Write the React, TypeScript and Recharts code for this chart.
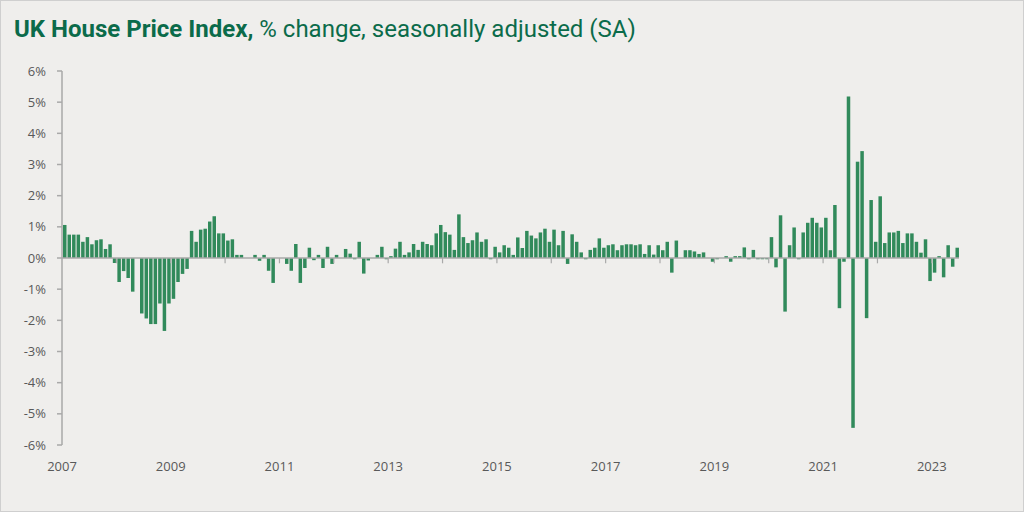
import React from 'react';
import { BarChart, Bar, XAxis, YAxis, ReferenceLine } from 'recharts';

// Monthly % change, seasonally adjusted, Jan 2007 .. Jun 2023
const monthlyChange: number[] = [
  // 2007
  1.06, 0.75, 0.75, 0.75, 0.52, 0.67, 0.44, 0.57, 0.60, 0.29, 0.44, -0.16,
  // 2008
  -0.77, -0.42, -0.64, -1.08, 0, -1.78, -1.94, -2.12, -2.12, -1.46, -2.34, -1.46,
  // 2009
  -1.31, -0.77, -0.51, -0.35, 0.87, 0.52, 0.91, 0.94, 1.17, 1.34, 0.79, 0.79,
  // 2010
  0.56, 0.60, 0.10, 0.10, 0, 0, 0.10, -0.09, 0.10, -0.41, -0.80, 0,
  // 2011
  0, -0.19, -0.41, 0.45, -0.80, -0.32, 0.33, -0.07, 0.10, -0.32, 0.36, -0.19,
  // 2012
  0.10, 0, 0.29, 0.14, -0.04, 0.52, -0.50, -0.08, 0, 0.10, 0.36, -0.04,
  // 2013
  0.06, 0.30, 0.52, 0.10, 0.18, 0.45, 0.26, 0.52, 0.45, 0.41, 0.79, 1.06,
  // 2014
  0.83, 0.75, 0.26, 1.40, 0.67, 0.48, 0.57, 0.82, 0.52, 0.60, -0.04, 0.36,
  // 2015
  0.18, 0.41, 0.33, 0.10, 0.66, 0.32, 0.87, 0.72, 0.63, 0.82, 0.94, 0.52,
  // 2016
  0.91, 0.41, 0.87, -0.19, 0.76, 0.52, 0.18, -0.04, 0.26, 0.33, 0.63, 0.33,
  // 2017
  0.41, 0.44, 0.25, 0.41, 0.44, 0.44, 0.41, 0.44, 0.13, 0.41, 0.11, 0.41,
  // 2018
  0.25, 0.52, -0.47, 0.56, 0, 0.25, 0.25, 0.21, 0.13, 0.18, 0, -0.12,
  // 2019
  -0.04, 0, 0.06, -0.12, 0.06, 0.06, 0.34, -0.04, 0.26, -0.04, -0.04, -0.04,
  // 2020
  0.67, -0.30, 1.37, -1.72, 0.41, 0.98, -0.04, 0.82, 1.13, 1.29, 1.13, 0.98,
  // 2021
  1.29, 0.25, 1.70, -1.61, -0.12, 5.18, -5.45, 3.09, 3.43, -1.93, 1.86, 0.52,
  // 2022
  1.98, 0.48, 0.82, 0.82, 0.87, 0.48, 0.79, 0.79, 0.52, 0.17, 0.60, -0.74,
  // 2023
  -0.47, 0.06, -0.62, 0.41, -0.28, 0.33,
];

// x-axis: one tick per year boundary (months since Jan 2007), label every other year
const yearTickPositions: number[] = [0, 12, 24, 36, 48, 60, 72, 84, 96, 108, 120, 132, 144, 156, 168, 180, 192];
const yearTickLabels: string[] = ['2007', '', '2009', '', '2011', '', '2013', '', '2015', '', '2017', '', '2019', '', '2021', '', '2023'];
const yTicks: number[] = [-6, -5, -4, -3, -2, -1, 0, 1, 2, 3, 4, 5, 6];

const data = monthlyChange.map((v, i) => ({ x: i + 0.5, v }));

const GREEN_TITLE = '#0b6b4a';
const BAR = '#318a5b';
const AXIS = '#a9a9a9';
const LABEL = '#595959';
const BG = '#efeeec';
const FONT = '"Open Sans", "Noto Sans", sans-serif';

export default function App() {
  return (
    <div
      style={{
        position: 'absolute',
        left: 0,
        top: 0,
        width: 1024,
        height: 512,
        background: BG,
        border: '1px solid #cfcfcf',
        boxSizing: 'border-box',
        overflow: 'hidden',
      }}
    >
      <div
        style={{
          position: 'absolute',
          left: 13,
          top: 13,
          fontFamily: 'Roboto, "Open Sans", sans-serif',
          fontSize: 24,
          lineHeight: '30px',
          color: GREEN_TITLE,
          whiteSpace: 'nowrap',
        }}
      >
        <span style={{ fontWeight: 700 }}>UK House Price Index,</span>
        <span style={{ fontWeight: 400 }}> % change, seasonally adjusted (SA)</span>
      </div>
      <div style={{ position: 'absolute', left: -1, top: -1 }}>
        <BarChart
          width={1024}
          height={512}
          data={data}
          margin={{ top: 71, right: 65, bottom: 37, left: 0 }}
        >
          <XAxis
            type="number"
            dataKey="x"
            domain={[0, 198]}
            ticks={yearTickPositions}
            interval={0}
            tickFormatter={(t: number) => yearTickLabels[yearTickPositions.indexOf(t)] ?? ''}
            axisLine={false}
            tickLine={false}
            tickMargin={11}
            height={30}
            allowDataOverflow
            tick={{ fill: LABEL, fontSize: 13, fontFamily: FONT }}
          />
          <YAxis
            type="number"
            domain={[-6, 6]}
            ticks={yTicks}
            interval={0}
            tickFormatter={(v: number) => `${v}%`}
            width={62}
            axisLine={{ stroke: AXIS, strokeWidth: 1.5 }}
            tickLine={{ stroke: AXIS, strokeWidth: 1.5 }}
            tickSize={5}
            tickMargin={11}
            allowDataOverflow
            tick={{ fill: LABEL, fontSize: 13, fontFamily: FONT }}
          />
          <Bar dataKey="v" fill={BAR} barSize={3.5} isAnimationActive={false} />
          <ReferenceLine y={0} stroke={AXIS} strokeWidth={1.5} />
          {yearTickPositions.slice(1).map((t) => (
            <ReferenceLine
              key={t}
              segment={[
                { x: t, y: 0 },
                { x: t, y: -0.17 },
              ]}
              stroke={AXIS}
              strokeWidth={1.2}
              ifOverflow="visible"
            />
          ))}
        </BarChart>
      </div>
    </div>
  );
}
